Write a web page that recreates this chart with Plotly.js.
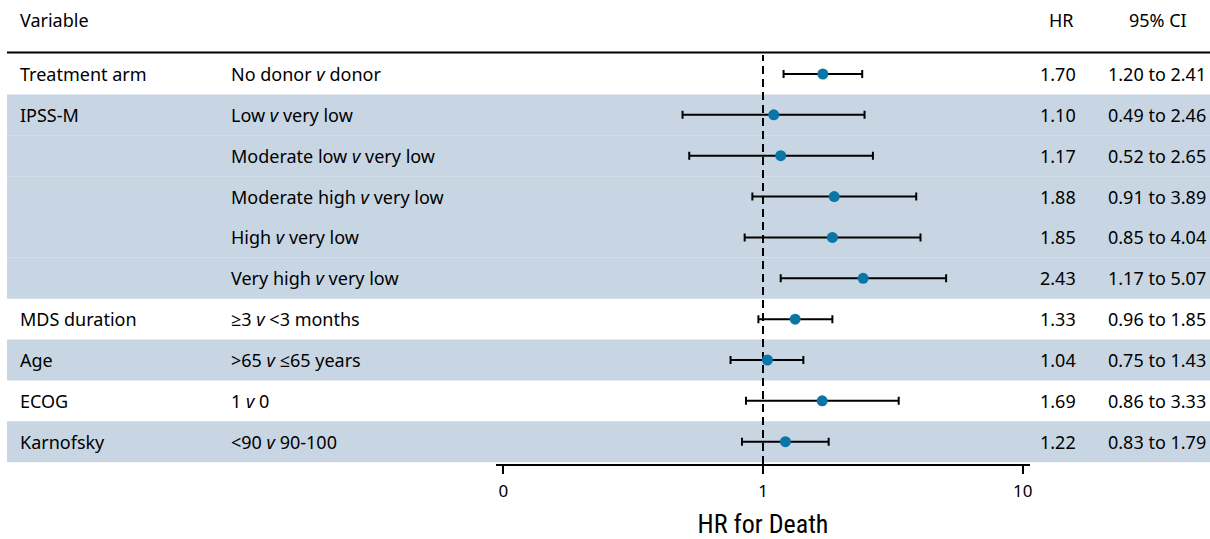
<!DOCTYPE html>
<html>
<head>
<meta charset="utf-8">
<script src="https://cdn.plot.ly/plotly-3.0.1.min.js"></script>
<style>html,body{margin:0;padding:0;background:#fff;}#chart{width:1210px;height:539px;}</style>
</head>
<body>
<div id="chart"></div>
<script>
// ---- data ----
const variables = ['Treatment arm', 'IPSS-M', '', '', '', '', 'MDS duration', 'Age', 'ECOG', 'Karnofsky'];
const comparisons = [
  'No donor <i>v</i> donor',
  'Low <i>v</i> very low',
  'Moderate low <i>v</i> very low',
  'Moderate high <i>v</i> very low',
  'High <i>v</i> very low',
  'Very high <i>v</i> very low',
  '≥3 <i>v</i> &lt;3 months',
  '&gt;65 <i>v</i> ≤65 years',
  '1 <i>v</i> 0',
  '&lt;90 <i>v</i> 90-100'
];
const hr = [1.70, 1.10, 1.17, 1.88, 1.85, 2.43, 1.33, 1.04, 1.69, 1.22];
const ciLow = [1.20, 0.49, 0.52, 0.91, 0.85, 1.17, 0.96, 0.75, 0.86, 0.83];
const ciHigh = [2.41, 2.46, 2.65, 3.89, 4.04, 5.07, 1.85, 1.43, 3.33, 1.79];
const shadedGroup = [false, true, true, true, true, true, false, true, false, true];
const tickVals = [0.1, 1, 10];
const tickText = ['0', '1', '10'];
const headers = {variable: 'Variable', hr: 'HR', ci: '95% CI'};
const axisTitle = 'HR for Death';

// ---- layout helpers ----
const W = 1210, H = 539;
const plotL = 496, plotR = 1030, plotT = 55, plotB = 464;
const pw = plotR - plotL, ph = plotB - plotT;
const px = p => (p - plotL) / pw;        // pixel x -> paper x
const py = p => (plotB - p) / ph;        // pixel y -> paper y

const rowIdx = hr.map((_, i) => i);
const FONT = '"Noto Sans", "Open Sans", Arial, sans-serif';
const fs = 18;

const shapes = [];
rowIdx.forEach(i => {
  if (shadedGroup[i]) {
    shapes.push({type: 'rect', xref: 'paper', yref: 'y', x0: px(7), x1: px(1210),
      y0: i - 0.5, y1: i + 0.5, fillcolor: '#c8d6e3', line: {width: 0}, layer: 'below'});
  }
});
shapes.push({type: 'line', xref: 'paper', yref: 'paper', x0: px(7), x1: px(1210),
  y0: py(52.5), y1: py(52.5), line: {color: '#000', width: 2}});
shapes.push({type: 'line', xref: 'x', yref: 'paper', x0: 1, x1: 1, y0: 0, y1: 1,
  line: {color: '#000', width: 2, dash: '8px,5px'}, layer: 'below'});

const annotations = [];
const ann = (text, x, y, xanchor, yref) => annotations.push({text, x, y, xref: 'paper', yref: yref || 'y',
  xanchor, yanchor: 'middle', showarrow: false, font: {family: FONT, size: fs, color: '#000'}});
ann(headers.variable, px(18), py(20), 'left', 'paper');
ann(headers.hr, px(1061), py(20), 'center', 'paper');
ann(headers.ci, px(1158), py(20), 'center', 'paper');
rowIdx.forEach(i => {
  if (variables[i]) ann(variables[i], px(18), i, 'left');
  ann(comparisons[i], px(229), i, 'left');
  ann(hr[i].toFixed(2), px(1078), i, 'right');
  ann(ciLow[i].toFixed(2) + ' to ' + ciHigh[i].toFixed(2), px(1208), i, 'right');
});

const trace = {
  type: 'scatter', mode: 'markers',
  x: hr, y: rowIdx,
  marker: {color: '#0b75a6', size: 11},
  error_x: {type: 'data', symmetric: false,
    array: hr.map((v, i) => ciHigh[i] - v),
    arrayminus: hr.map((v, i) => v - ciLow[i]),
    color: '#000', thickness: 2, width: 4},
  hoverinfo: 'skip', cliponaxis: false
};

const layout = {
  width: W, height: H,
  margin: {l: plotL, r: W - plotR, t: plotT, b: H - plotB, pad: 0},
  paper_bgcolor: '#fff', plot_bgcolor: 'rgba(0,0,0,0)',
  showlegend: false,
  font: {family: FONT, size: fs, color: '#000'},
  xaxis: {type: 'log', range: [-1.028, 1.028], tickvals: tickVals, ticktext: tickText,
    showline: true, linecolor: '#000', linewidth: 2, ticks: 'outside', ticklen: 8, tickwidth: 2,
    tickcolor: '#000', showgrid: false, zeroline: false, ticklabelstandoff: 3,
    tickfont: {family: FONT, size: 17, color: '#000'},
    title: {text: axisTitle, standoff: 17,
      font: {family: '"Roboto Condensed", "DejaVu Sans Condensed", Roboto, sans-serif', size: 26, weight: 400, color: '#000'}}},
  yaxis: {range: [9.545, -0.465], showticklabels: false, showgrid: false, zeroline: false,
    showline: false, ticks: ''},
  shapes, annotations
};

Plotly.newPlot('chart', [trace], layout, {displayModeBar: false, staticPlot: true});
</script>
</body>
</html>
